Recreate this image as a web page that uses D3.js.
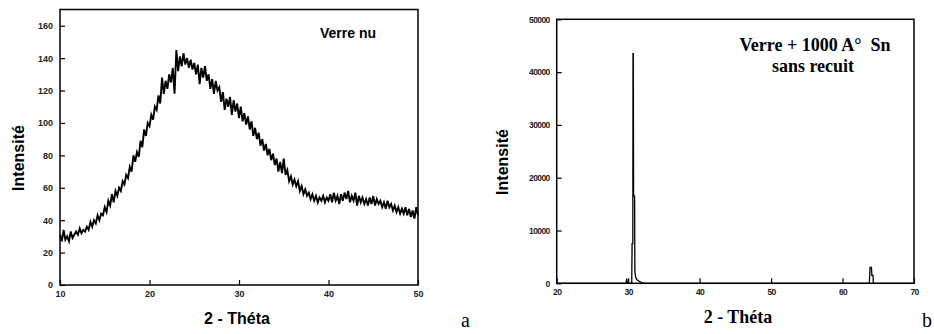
<!DOCTYPE html>
<html>
<head>
<meta charset="utf-8">
<script src="https://cdn.jsdelivr.net/npm/d3@7"></script>
<style>
  body { margin: 0; background: #fff; }
  svg { display: block; }
  .tick text { font-family: "Liberation Sans", Arial, sans-serif; font-weight: bold; font-size: 9px; fill: #222; }
  .tick line { stroke: #000; stroke-width: 1.2; }
</style>
</head>
<body>
<div id="chart"></div>
<script>
// panel a : verre nu, 2-theta 10..50 step 0.2
const thetaStartA = 10;
const thetaStepA = 0.2;
const intensityA = [
  31, 27, 34, 28, 30, 27, 33, 29, 31, 33, 31, 35, 32, 34, 33, 36, 34, 39, 36, 40,
  38, 43, 40, 44, 43, 48, 45, 52, 49, 56, 51, 58, 55, 60, 58, 64, 62, 68, 66, 73,
  70, 80, 76, 82, 79, 89, 85, 96, 92, 100, 98, 105, 102, 110, 108, 117, 112, 128, 118, 126,
  121, 130, 125, 134, 118, 145, 132, 141, 135, 143, 136, 140, 134, 139, 133, 137, 130, 136, 124, 134,
  128, 135, 126, 130, 121, 127, 118, 126, 120, 122, 113, 119, 108, 115, 110, 116, 105, 114, 107, 112,
  103, 110, 101, 106, 99, 104, 96, 101, 92, 97, 90, 94, 86, 90, 83, 87, 80, 84, 77, 81,
  74, 78, 70, 76, 69, 78, 68, 71, 64, 67, 62, 65, 61, 64, 58, 61, 56, 59, 55, 57,
  53, 56, 52, 55, 51, 54, 52, 55, 51, 54, 52, 56, 51, 57, 52, 55, 50, 56, 52, 57,
  53, 58, 51, 55, 52, 57, 49, 55, 51, 54, 50, 53, 49, 54, 50, 55, 49, 53, 50, 52,
  48, 51, 47, 52, 48, 50, 46, 49, 45, 48, 44, 47, 44, 48, 43, 47, 42, 46, 41, 48,
  43
];
const xTicksA = [10, 20, 30, 40, 50];
const yTicksA = [0, 20, 40, 60, 80, 100, 120, 140, 160];

// panel b : verre + 1000 A Sn sans recuit
const thetaB = [20, 29.7, 29.8, 29.9, 30.0, 30.5, 30.55, 30.65, 30.68, 30.72, 30.76, 30.79, 30.9, 30.94, 31.05, 31.2, 31.5, 31.8, 32.1, 32.3,
  63.75, 63.8, 63.85, 64.05, 64.1, 64.2, 64.27, 64.3, 70];
const intensityB = [0, 0, 900, 0, 0, 0, 7500, 7500, 43500, 43500, 16500, 16500, 16500, 2200, 1200, 700, 400, 200, 60, 0,
  0, 1500, 3000, 3000, 1500, 1500, 1500, 0, 0];
const xTicksB = [20, 30, 40, 50, 60, 70];
const yTicksB = [0, 10000, 20000, 30000, 40000, 50000];

const svg = d3.select('#chart').append('svg')
  .attr('width', 934)
  .attr('height', 334);

function drawFrame(g, x, y, xTicks, yTicks) {
  const [x0, x1] = x.range();
  const [y0, y1] = y.range();
  g.append('g')
    .attr('transform', `translate(0,${y0})`)
    .call(d3.axisBottom(x).tickValues(xTicks).tickSize(-5).tickPadding(6).tickFormat(d3.format('d')))
    .call(a => a.select('.domain').remove());
  g.append('g')
    .attr('transform', `translate(${x0},0)`)
    .call(d3.axisLeft(y).tickValues(yTicks).tickSize(-5).tickPadding(7).tickFormat(d3.format('d')))
    .call(a => a.select('.domain').remove());
  g.append('rect')
    .attr('x', x0).attr('y', y1)
    .attr('width', x1 - x0).attr('height', y0 - y1)
    .attr('fill', 'none').attr('stroke', '#000').attr('stroke-width', 1.5);
}

// ---- panel a
const xA = d3.scaleLinear().domain([10, 50]).range([60, 418]);
const yA = d3.scaleLinear().domain([0, 170]).range([285, 9.5]);
const gA = svg.append('g');

const dataA = intensityA.map((v, i) => ({ t: thetaStartA + i * thetaStepA, v }));
gA.append('path')
  .datum(dataA)
  .attr('fill', 'none')
  .attr('stroke', '#000')
  .attr('stroke-width', 1.9)
  .attr('stroke-linejoin', 'miter')
  .attr('d', d3.line().x(d => xA(d.t)).y(d => yA(d.v)));

drawFrame(gA, xA, yA, xTicksA, yTicksA);

gA.append('text')
  .attr('x', 348).attr('y', 38)
  .attr('text-anchor', 'middle')
  .style('font', 'bold 14px "Liberation Sans", Arial, sans-serif')
  .text('Verre nu');

gA.append('text')
  .attr('transform', 'translate(24,158) rotate(-90)')
  .attr('text-anchor', 'middle')
  .style('font', 'bold 16px "Liberation Sans", Arial, sans-serif')
  .text('Intensité');

gA.append('text')
  .attr('x', 237).attr('y', 324)
  .attr('text-anchor', 'middle')
  .style('font', 'bold 16px "Liberation Sans", Arial, sans-serif')
  .text('2 - Théta');

// ---- panel b
const xB = d3.scaleLinear().domain([20, 70]).range([556.7, 914]);
const yB = d3.scaleLinear().domain([0, 50000]).range([283.3, 19.3]);
const gB = svg.append('g');

const dataB = thetaB.map((t, i) => ({ t, v: intensityB[i] }));
gB.append('path')
  .datum(dataB)
  .attr('fill', 'none')
  .attr('stroke', '#000')
  .attr('stroke-width', 1.3)
  .attr('d', d3.line().x(d => xB(d.t)).y(d => yB(d.v)));

drawFrame(gB, xB, yB, xTicksB, yTicksB);
gB.selectAll('.tick text').style('font-size', '8.5px').style('letter-spacing', '-0.6px');

gB.append('text')
  .attr('x', 815).attr('y', 51)
  .attr('text-anchor', 'middle')
  .style('font', 'bold 18px "Liberation Serif", "Times New Roman", serif')
  .attr('xml:space', 'preserve')
  .text('Verre + 1000 A°  Sn');

gB.append('text')
  .attr('x', 813).attr('y', 72)
  .attr('text-anchor', 'middle')
  .style('font', 'bold 18px "Liberation Serif", "Times New Roman", serif')
  .text('sans recuit');

gB.append('text')
  .attr('transform', 'translate(508,162) rotate(-90)')
  .attr('text-anchor', 'middle')
  .style('font', 'bold 16px "Liberation Sans", Arial, sans-serif')
  .text('Intensité');

gB.append('text')
  .attr('x', 738).attr('y', 323)
  .attr('text-anchor', 'middle')
  .style('font', 'bold 18px "Liberation Serif", "Times New Roman", serif')
  .text('2 - Théta');

// panel letters
svg.append('text')
  .attr('x', 461).attr('y', 327)
  .style('font', '20px "Liberation Serif", "Times New Roman", serif')
  .text('a');
svg.append('text')
  .attr('x', 922).attr('y', 327)
  .style('font', '20px "Liberation Serif", "Times New Roman", serif')
  .text('b');
</script>
</body>
</html>
